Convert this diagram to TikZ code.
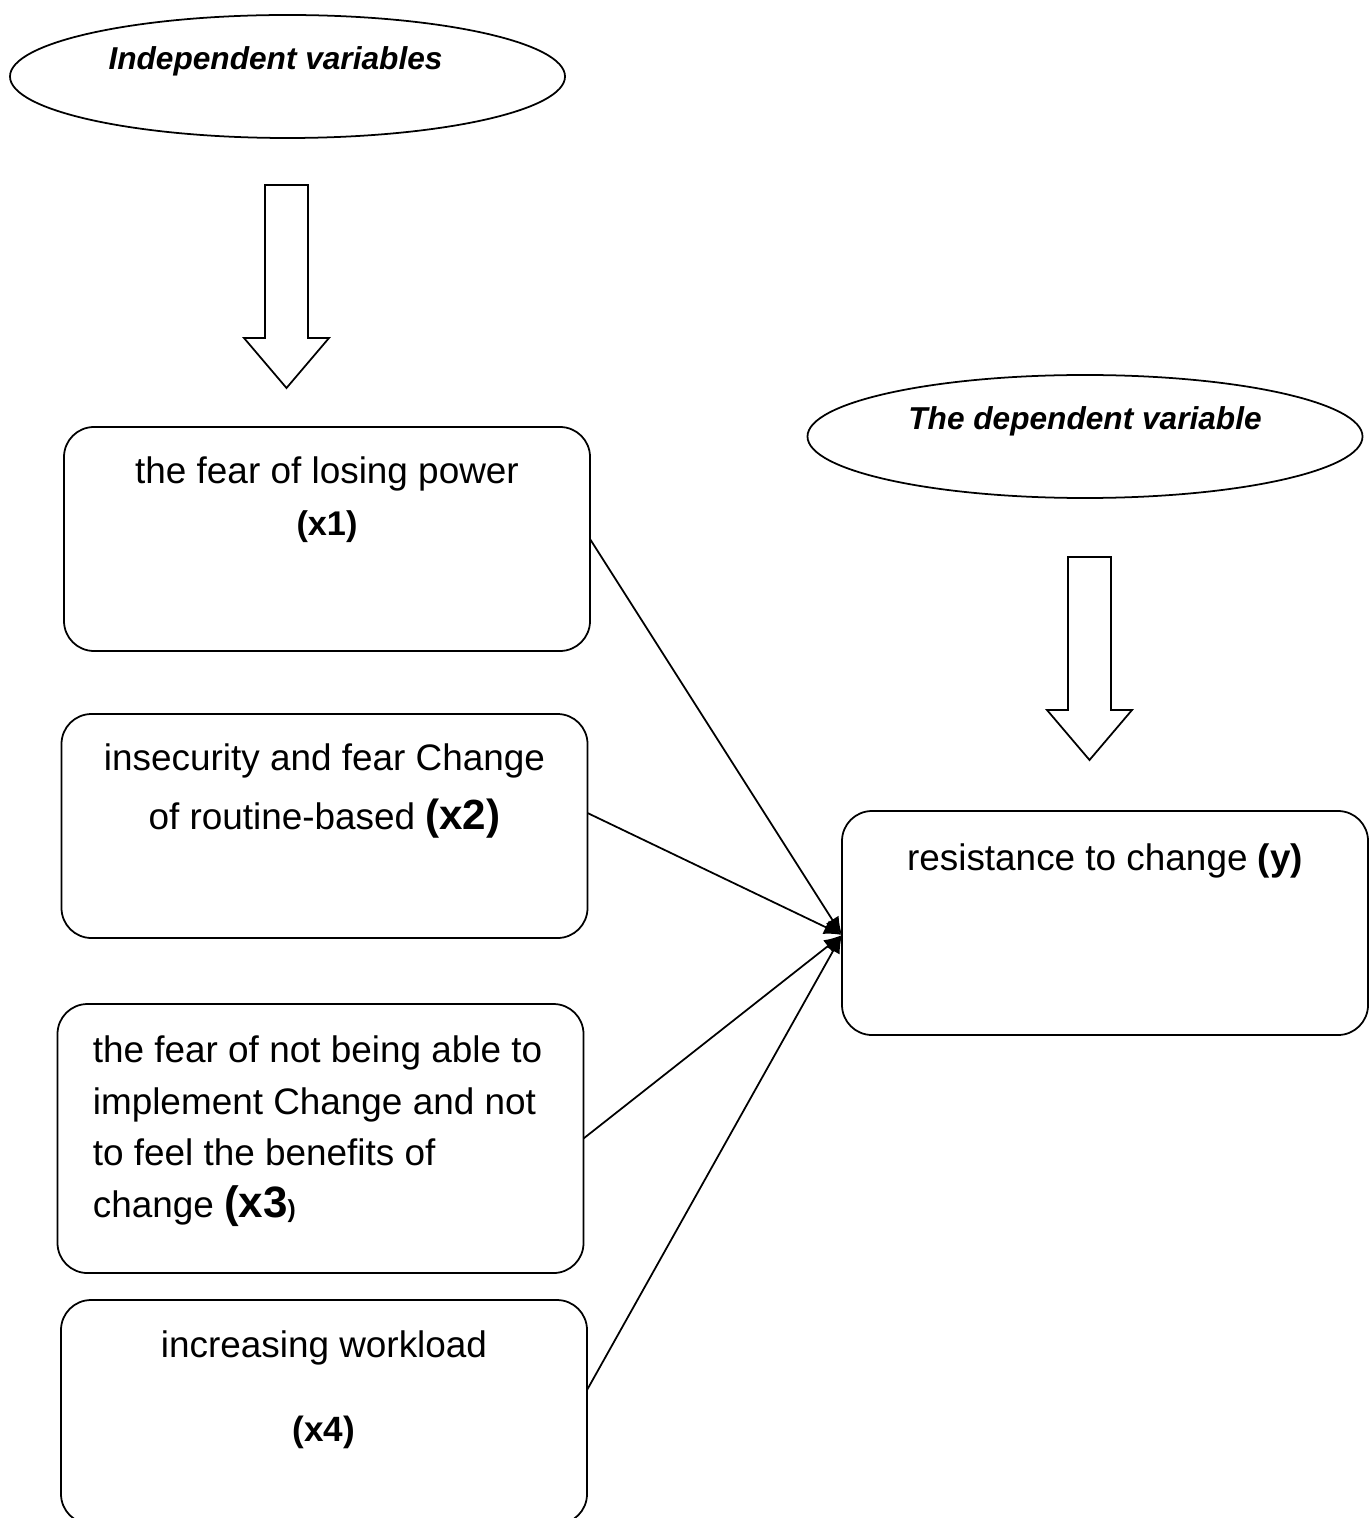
\documentclass[tikz,border=0pt]{standalone}
\usepackage{fontspec}
\setmainfont{Liberation Sans}
\usepackage{tikz}
\usetikzlibrary{arrows.meta,positioning,shapes.geometric}
\tikzset{
  varbox/.style={draw, rounded corners=6mm, line width=1pt, outer sep=0pt,
    minimum width=105.2mm, minimum height=44.8mm},
  varoval/.style={ellipse, draw, line width=1pt, inner sep=0pt, outer sep=0pt,
    minimum width=111mm, minimum height=24.6mm},
  boxtext/.style={inner sep=0pt, align=center, font=\fontsize{21}{29.3}\selectfont},
  ovaltext/.style={inner sep=0pt, font=\fontsize{18}{22}\selectfont\bfseries\itshape},
  blockarrow/.style={draw, line width=1pt, fill=white, line join=miter},
  flow/.style={-{Latex[length=3.6mm,width=3mm]}, line width=1pt}
}

\begin{document}
\begin{tikzpicture}[x=0.2mm, y=-0.2mm]
\useasboundingbox (0,0) rectangle (1371,1518);
\node[varoval] (indep) at (287.5,76.5) {};
\node[ovaltext, anchor=base] (indeptxt) at ([xshift=-2.4mm,yshift=1.3mm]indep.center) {Independent variables};
\node[varoval] (dep) at (1085,436.5) {};
\node[ovaltext, anchor=base] (deptxt) at ([yshift=1.3mm]dep.center) {The dependent variable};

\draw[blockarrow] (265,185) -- (308,185) -- (308,338) -- (329,338) -- (286.5,388) -- (244,338) -- (265,338) -- cycle;
\draw[blockarrow] (1068,557) -- (1111,557) -- (1111,710) -- (1132,710) -- (1089.5,760) -- (1047,710) -- (1068,710) -- cycle;

\node[varbox] (x1) at (327,539) {};
\node[varbox, below=12.6mm of x1, xshift=-0.5mm] (x2) {};
\node[varbox, below=13.2mm of x2, xshift=-0.8mm, minimum height=53.8mm] (x3) {};
\node[varbox, below=5.4mm of x3, xshift=0.7mm] (x4) {};
\node[varbox] (y) at (1105,923) {};

\node[boxtext, anchor=base] (x1txt) at ([yshift=-21.6mm]x1.north)
  {the fear of losing power\\{\fontsize{19.5}{29.3}\selectfont\bfseries (x1)}};
\node[boxtext, anchor=base] (x2txt) at ([yshift=-23mm]x2.north)
  {insecurity and fear Change\\[4pt]of routine-based {\fontsize{24}{29.3}\selectfont\bfseries (x2)}};
\node[boxtext, align=left, anchor=base west] (x3txt) at ([xshift=7mm,yshift=-42.6mm]x3.north west)
  {the fear of not being able to\\implement Change and not\\to feel the benefits of\\change {\fontsize{25}{29.3}\selectfont\bfseries (x3}{\fontsize{14}{29.3}\selectfont\bfseries )}};
\node[boxtext, anchor=base] (x4txt) at ([yshift=-28.2mm]x4.north)
  {increasing workload\\[18.5pt]{\fontsize{20}{29.3}\selectfont\bfseries (x4)}};
\node[boxtext, anchor=base] (ytxt) at ([yshift=-11.8mm]y.north)
  {resistance to change {\bfseries (y)}};

\coordinate (hub) at ([yshift=-2.4mm]y.west);
\draw[flow] (x1.east) -- (hub);
\draw[flow] ([yshift=2.6mm]x2.east) -- (hub);
\draw[flow] (x3.east) -- (hub);
\draw[flow] ([yshift=4.4mm]x4.east) -- (hub);
\end{tikzpicture}
\end{document}
